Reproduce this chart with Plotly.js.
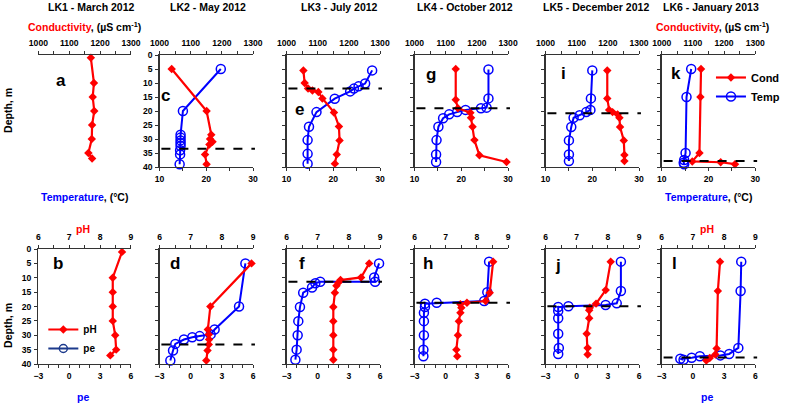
<!DOCTYPE html>
<html><head><meta charset="utf-8">
<script src="https://cdn.plot.ly/plotly-3.0.1.min.js"></script>
<style>body{margin:0;padding:0;background:#fff}#chart{width:785px;height:403px}</style>
</head><body><div id="chart"></div>
<script>
// ---------- labels ----------
const lakeTitles = ['LK1 - March 2012','LK2 - May 2012','LK3 - July 2012','LK4 - October 2012','LK5 - December 2012','LK6 - January 2013'];
const topLetters = ['a','c','e','g','i','k'];
const bottomLetters = ['b','d','f','h','j','l'];
const tempTicks = [10,20,30];
const condTicks = [1000,1100,1200,1300];
const phTicks = [6,7,8,9];
const peTicks = [-3,0,3,6];
const depthTicks = [0,5,10,15,20,25,30,35,40];

// ---------- conductivity (µS cm-1) vs depth (m) ----------
const lk1CondDepth = [1,10,15,20,25,30,35,37];
const lk1Cond      = [1170,1180,1176,1181,1174,1173,1162,1174];
const lk2CondDepth = [5,20,28.5,30,31,32,35.5,39];
const lk2Cond      = [1039,1151,1166,1162,1170,1160,1146,1151];
const lk3CondDepth = [5.5,10,12,12.7,13.2,15.5,20.5,25.5,30.5,35.5,38.8];
const lk3Cond      = [1054,1058,1069,1083,1102,1115,1152,1168,1170,1161,1155];
const lk4CondDepth = [5,16,19,20.6,22.4,25.6,30.4,35.8,38.2];
const lk4Cond      = [1132,1132,1139,1179,1181,1186,1192,1208,1295];
const lk5CondDepth = [5.5,15.5,19.6,20.4,21.2,22.4,25.7,30.5,35.7,37.9];
const lk5Cond      = [1198,1198,1204,1215,1231,1237,1239,1251,1253,1253];
const lk6CondDepth = [5,15,35,38,38.3,39];
const lk6Cond      = [1126,1124,1121,1098,1189,1235];

// ---------- temperature (°C) vs depth (m) ----------
const lk2TempDepth = [5,20,28.5,29.5,30.5,31.5,32.5,34,35.5,39];
const lk2Temp      = [23.1,15,14.5,14.5,14.5,14.5,14.5,14.4,14.4,14.3];
const lk3TempDepth = [5.5,10.2,11.2,12,13,15.6,20.4,25.6,30.4,35.3,38.8];
const lk3Temp      = [28.3,26.8,25.4,24.4,23.6,20.3,16.4,14.8,14.5,14.5,14.5];
const lk4TempDepth = [5.2,15.5,18.8,19,19.6,20.4,21.2,22.6,25.6,30.4,35.5,38.2];
const lk4Temp      = [25.8,25.8,25.4,24.2,20.9,19.1,17.4,16.1,15.1,14.7,14.6,14.6];
const lk5TempDepth = [5.5,15.5,19.6,20.4,21.5,22.4,25.7,30.5,35.5,37.9];
const lk5Temp      = [20,19.7,19.6,18.7,17.3,16,15.5,15,15,15];
const lk6TempDepth = [5,15,35,37.5,38.5,39];
const lk6Temp      = [16.3,15.3,15.1,14.8,14.7,14.8];

// ---------- pH vs depth (m) ----------
const lk1PhDepth = [1,10,15,20,25,30,35,37];
const lk1Ph      = [8.71,8.41,8.41,8.41,8.41,8.49,8.52,8.33];
const lk2PhDepth = [5,20,28,29.7,31.5,33.2,35.3,38.8];
const lk2Ph      = [8.95,7.63,7.55,7.58,7.59,7.58,7.54,7.5];
const lk3PhDepth = [5,9.9,10.8,11.7,12.8,15.2,20.2,25.1,30,35,38.5];
const lk3Ph      = [8.65,8.39,7.73,7.66,7.6,7.55,7.5,7.5,7.5,7.5,7.5];
const lk4PhDepth = [4.4,15.2,18.1,18.7,19.2,20.4,22.2,25.1,30,35,37.3];
const lk4Ph      = [8.52,8.41,8.28,7.68,7.47,7.5,7.47,7.42,7.39,7.34,7.37];
const lk5PhDepth = [4.4,14.3,19,20.4,21.3,24.1,29.5,34.4,36.7];
const lk5Ph      = [8.09,7.93,7.62,7.42,7.4,7.4,7.32,7.35,7.35];
const lk6PhDepth = [4.4,14.6,34.6,36.7,37.9,38.8];
const lk6Ph      = [7.87,7.8,7.76,7.72,7.54,7.43];

// ---------- pe vs depth (m) ----------
const lk2PeDepth = [5,20,28,29.7,30.3,30.7,31.5,33,35.3,38.8];
const lk2Pe      = [5.26,4.65,2.3,1.92,0.86,0.15,-0.65,-1.48,-1.7,-1.96];
const lk3PeDepth = [5,9.9,11.4,11.4,11.9,13.4,15.2,20.2,25.1,30,35,38.5];
const lk3Pe      = [5.9,5.43,5.52,0.24,-0.23,-0.55,-1.4,-1.71,-1.87,-1.93,-2.03,-2.15];
const lk4PeDepth = [4.4,15,18.1,18.7,19,20.2,22.2,25.1,30,35,37.3];
const lk4Pe      = [4.17,4.0,3.7,-0.87,-2.0,-2.0,-2.1,-2.1,-2.1,-2.15,-2.15];
const lk5PeDepth = [4.4,14.6,18.9,19.5,19.9,20.2,21.6,24.1,29.5,34.4,36.5];
const lk5Pe      = [4.25,4.25,3.85,2.78,-0.8,-1.78,-1.78,-1.78,-1.78,-1.72,-1.78];
const lk6PeDepth = [4.4,14.6,34.4,36.5,37,37.3,37.8,38.2,38.5];
const lk6Pe      = [4.65,4.59,4.37,3.49,2.64,0.67,-0.12,-1.21,-0.9];

// ---------- thermocline / redoxcline depths (m) ----------
const topClineDepth    = [null,33.5,12,19,20.8,37.9];
const bottomClineDepth = [null,33.2,11.4,18.7,19.9,37.7];

// ---------- layout (pixels) ----------
const W = 785, H = 403;
const colPx = [[39,133],[162,257],[291,386],[421,516],[554,649],[672,767]];
const rowPx = [[55,167],[249,364]];
const topLetterPx = [[62,80],[168,95],[304,109],[438,75],[572,73],[687,73]];
const bottomLetterPx = [[59,263],[178,263],[307,263],[435,263],[567,265],[685,263]];
const RED = '#ff0000', BLUE = '#0000ff', NAVY = '#1c3a8c';
const FONT = 'Liberation Sans, Arial, sans-serif';

const condSeries = [[lk1CondDepth,lk1Cond],[lk2CondDepth,lk2Cond],[lk3CondDepth,lk3Cond],[lk4CondDepth,lk4Cond],[lk5CondDepth,lk5Cond],[lk6CondDepth,lk6Cond]];
const tempSeries = [null,[lk2TempDepth,lk2Temp],[lk3TempDepth,lk3Temp],[lk4TempDepth,lk4Temp],[lk5TempDepth,lk5Temp],[lk6TempDepth,lk6Temp]];
const phSeries = [[lk1PhDepth,lk1Ph],[lk2PhDepth,lk2Ph],[lk3PhDepth,lk3Ph],[lk4PhDepth,lk4Ph],[lk5PhDepth,lk5Ph],[lk6PhDepth,lk6Ph]];
const peSeries = [null,[lk2PeDepth,lk2Pe],[lk3PeDepth,lk3Pe],[lk4PeDepth,lk4Pe],[lk5PeDepth,lk5Pe],[lk6PeDepth,lk6Pe]];

const axId = (l,n) => n===1 ? l : l+n;
const layKey = (l,n) => n===1 ? l+'axis' : l+'axis'+n;
const tickFont = {family:FONT, size:8.6, color:'#000', weight:'bold'};

const layout = {
  width:W, height:H, margin:{l:0,r:0,t:0,b:0}, autosize:false,
  paper_bgcolor:'#fff', plot_bgcolor:'rgba(0,0,0,0)',
  showlegend:true, shapes:[], annotations:[],
  legend:{x:722/W, y:1-63/H, xanchor:'left', yanchor:'top', bgcolor:'rgba(0,0,0,0)',
          font:{family:FONT,size:11,color:'#000',weight:'bold'}, itemwidth:30, tracegroupgap:0},
  legend2:{x:44/W, y:1-315/H, xanchor:'left', yanchor:'top', bgcolor:'rgba(0,0,0,0)',
          font:{family:FONT,size:10,color:'#000',weight:'bold'}, itemwidth:30, tracegroupgap:0}
};
const traces = [];

function axisBase(){
  return {showline:true, linecolor:'#333', linewidth:1.3, ticks:'outside', ticklen:3, tickwidth:1,
          tickcolor:'#333', showgrid:false, zeroline:false, fixedrange:true, tickfont:tickFont};
}

for (let r=0; r<2; r++){
  for (let c=0; c<6; c++){
    const p = r*6 + c + 1, q = p + 12;
    const xd = [colPx[c][0]/W, colPx[c][1]/W];
    const yd = [1-rowPx[r][1]/H, 1-rowPx[r][0]/H];
    const bx = Object.assign(axisBase(), {domain:xd, anchor:axId('y',p), side:'bottom',
      range: r===0 ? [10,30] : [-3,6], tickmode:'array', tickvals: r===0 ? tempTicks : peTicks,
      minor:{tickmode:'linear', tick0: r===0?10:-3, dtick: r===0?5:1, ticks:'outside', ticklen:3, tickcolor:'#333'}});
    const tx = Object.assign(axisBase(), {domain:xd, anchor:axId('y',p), side:'top', overlaying:axId('x',p),
      range: r===0 ? [1000,1300] : [6,9], tickmode:'array', tickvals: r===0 ? condTicks : phTicks,
      ticks:'outside', ticklabelstandoff:1,
      minor:{tickmode:'linear', tick0: r===0?1000:6, dtick: r===0?50:0.5, ticks:'outside', ticklen:3, tickcolor:'#333'}});
    const ya = Object.assign(axisBase(), {domain:yd, anchor:axId('x',p), range:[40,0],
      tickmode:'array', tickvals:depthTicks, showticklabels: c===0, ticklabelstandoff:1});
    layout[layKey('x',p)] = bx;
    layout[layKey('x',q)] = tx;
    layout[layKey('y',p)] = ya;

    const topSer = r===0 ? condSeries[c] : phSeries[c];
    const botSer = r===0 ? tempSeries[c] : peSeries[c];
    if (botSer){
      traces.push({type:'scatter', mode:'lines+markers', x:botSer[1], y:botSer[0],
        xaxis:axId('x',p), yaxis:axId('y',p), cliponaxis:false,
        line:{color:BLUE,width:2}, marker:{symbol:'circle-open',size:9,color:BLUE,line:{width:1.5,color:BLUE}},
        name: r===0?'Temp':'pe', showlegend: (r===0 && c===5), legend:'legend', legendrank:2});
    }
    traces.push({type:'scatter', mode:'lines+markers', x:topSer[1], y:topSer[0],
      xaxis:axId('x',q), yaxis:axId('y',p), cliponaxis:false,
      line:{color:RED,width:2.2}, marker:{symbol:'diamond',size:6.5,color:RED},
      name: r===0?'Cond':'pH', showlegend: (c===5 && r===0) || (c===0 && r===1),
      legend: r===0?'legend':'legend2', legendrank:1});
    if (r===1 && c===0){
      traces.push({type:'scatter', mode:'lines+markers', x:[null], y:[null],
        xaxis:axId('x',p), yaxis:axId('y',p),
        line:{color:NAVY,width:2}, marker:{symbol:'circle-open',size:8,color:NAVY,line:{width:1.5,color:NAVY}},
        name:'pe', showlegend:true, legend:'legend2', legendrank:2});
    }
    const cl = r===0 ? topClineDepth[c] : bottomClineDepth[c];
    if (cl !== null){
      layout.shapes.push({type:'line', xref: axId('x',p)+' domain', yref: axId('y',p),
        x0:0.02, x1:1.02, y0:cl, y1:cl, line:{color:'#000', width:2, dash:'dash'}});
    }
    const lp = r===0 ? topLetterPx[c] : bottomLetterPx[c];
    const letter = r===0 ? topLetters[c] : bottomLetters[c];
    layout.annotations.push({text:'<b>'+letter+'</b>', xref:'paper', yref:'paper',
      x:lp[0]/W, y:1-lp[1]/H, xanchor:'center', yanchor:'middle', showarrow:false,
      font:{family:FONT,size:17,color:'#000'}});
  }
}

// titles
const titleX = [93,211,345,472,605,722];
lakeTitles.forEach((t,i)=>{
  layout.annotations.push({text:'<b>'+t+'</b>', xref:'paper', yref:'paper', x:titleX[i]/W, y:1-7/H,
    xanchor:'center', yanchor:'middle', showarrow:false, font:{family:FONT,size:10.5,color:'#000'}});
});
function lab(text, px, py, rot){
  layout.annotations.push({text:text, xref:'paper', yref:'paper', x:px/W, y:1-py/H, xanchor:'center', yanchor:'middle',
    showarrow:false, textangle: rot||0, font:{family:FONT,size:10.5,color:'#000'}});
}
const condLab = '<b><span style="color:#ff0000">Conductivity</span>, (µS cm<sup>-1</sup>)</b>';
const tempLab = '<b><span style="color:#0000ff">Temperature</span>, (°C)</b>';
lab(condLab, 86, 27); lab(condLab, 724, 27);
lab(tempLab, 86, 197); lab(tempLab, 720, 197);
lab('<b><span style="color:#ff0000">pH</span></b>', 84, 229); lab('<b><span style="color:#ff0000">pH</span></b>', 718, 229);
lab('<b><span style="color:#0000ff">pe</span></b>', 84, 397); lab('<b><span style="color:#0000ff">pe</span></b>', 718, 397);
lab('<b>Depth, m</b>', 8, 110, -90); lab('<b>Depth, m</b>', 8, 325, -90);

Plotly.newPlot('chart', traces, layout, {staticPlot:true, displayModeBar:false});
</script></body></html>
